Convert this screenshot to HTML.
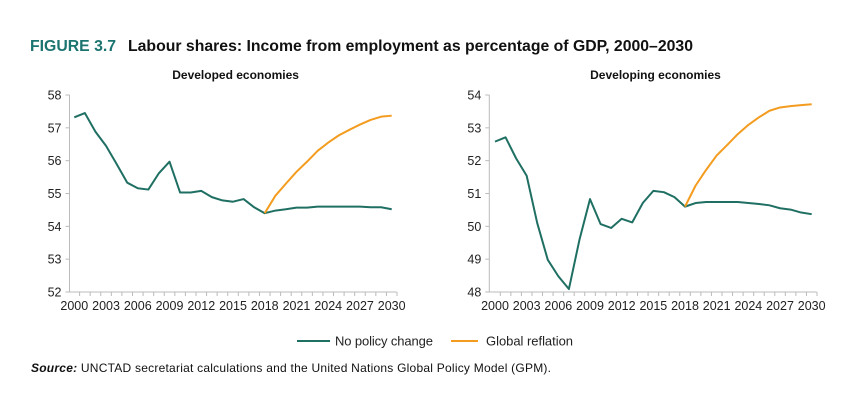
<!DOCTYPE html>
<html><head><meta charset="utf-8"><style>
body{margin:0;background:#fff;width:867px;height:404px;overflow:hidden;font-family:"Liberation Sans",Arial,sans-serif}
svg text{font-family:"Liberation Sans",Arial,sans-serif}
</style></head><body>
<svg id="s" width="867" height="404">
<text x="30" y="51" font-size="15.8" font-weight="bold" fill="#1c7470">FIGURE 3.7</text>
<text x="128" y="51" font-size="15.8" font-weight="bold" textLength="565" fill="#111">Labour shares: Income from employment as percentage of GDP, 2000–2030</text>
<g>
<line x1="297" y1="341" x2="330" y2="341" stroke="#1f6f63" stroke-width="2"/>
<text x="335" y="345.5" font-size="13" textLength="98" fill="#222">No policy change</text>
<line x1="451" y1="341" x2="478" y2="341" stroke="#f39c1f" stroke-width="2"/>
<text x="486" y="345.5" font-size="13" textLength="87" fill="#222">Global reflation</text>
</g>
<text x="31" y="372" font-size="12" textLength="520" fill="#111"><tspan font-weight="bold" font-style="italic">Source:</tspan>   UNCTAD secretariat calculations and the United Nations Global Policy Model (GPM).</text>
</svg>
<script>
const years=[];for(let y=2000;y<=2030;y++)years.push(y);
const xTickLabels=[2000,2003,2006,2009,2012,2015,2018,2021,2024,2027,2030];
const devTicks=[52,53,54,55,56,57,58];
const devNoPolicy=[57.32,57.45,56.88,56.45,55.9,55.33,55.16,55.12,55.62,55.97,55.03,55.03,55.08,54.89,54.79,54.75,54.83,54.58,54.40,54.48,54.52,54.57,54.57,54.6,54.6,54.6,54.6,54.6,54.58,54.58,54.52];
const devReflation=[54.40,54.93,55.3,55.66,55.97,56.3,56.55,56.77,56.94,57.1,57.24,57.34,57.37];
const dgTicks=[48,49,50,51,52,53,54];
const dgNoPolicy=[52.58,52.71,52.07,51.54,50.1,48.98,48.48,48.09,49.59,50.83,50.07,49.95,50.23,50.12,50.71,51.08,51.04,50.89,50.6,50.71,50.74,50.74,50.74,50.74,50.71,50.68,50.64,50.55,50.51,50.42,50.37];
const dgReflation=[50.6,51.24,51.72,52.16,52.48,52.81,53.09,53.32,53.52,53.62,53.66,53.69,53.72];
const svg=document.getElementById('s');const NS='http://www.w3.org/2000/svg';
function mk(t,a,p){const e=document.createElementNS(NS,t);for(const k in a)e.setAttribute(k,a[k]);(p||svg).appendChild(e);return e;}
function panel(name,title,axisX,x0,x1,ticks,np,rf){
 const g=mk('g',{});
 
 
 const yTop=95,yBot=292,lo=ticks[0],hi=ticks[ticks.length-1];
 const X=yr=>x0+(yr-2000)*(x1-x0)/30;
 const Y=v=>yBot-(v-lo)*(yBot-yTop)/(hi-lo);
 const t=mk('text',{x:(axisX+x1)/2+5,y:79,'font-size':12,'font-weight':'bold','text-anchor':'middle',fill:'#111'},g);t.textContent=title;
 
 
 const ax=mk('path',{d:`M${axisX},${yTop}V${yBot}H${X(2030)+5}`,stroke:'#bbb',fill:'none','stroke-width':1},g);
 
 
 ticks.forEach(v=>{mk('line',{x1:axisX-4,x2:axisX,y1:Y(v),y2:Y(v),stroke:'#bbb'},g);
  const l=mk('text',{x:axisX-8,y:Y(v)+4.5,'font-size':12.5,'text-anchor':'end',fill:'#222'},g);l.textContent=v;
  
  });
 years.forEach(yr=>{mk('line',{x1:X(yr)+5.3,x2:X(yr)+5.3,y1:yBot,y2:yBot+4,stroke:'#bbb'},g);});
 xTickLabels.forEach(yr=>{const l=mk('text',{x:X(yr),y:yBot+18,'font-size':12.5,'text-anchor':'middle',fill:'#222'},g);l.textContent=yr;
  
  });
 const p1=mk('polyline',{points:np.map((v,i)=>X(years[i])+','+Y(v)).join(' '),fill:'none',stroke:'#1f6f63','stroke-width':2,'stroke-linejoin':'round'},g);
 
 
 const p2=mk('polyline',{points:rf.map((v,i)=>X(2018+i)+','+Y(v)).join(' '),fill:'none',stroke:'#f39c1f','stroke-width':2,'stroke-linejoin':'round'},g);
 
 
}
panel('developed-chart','Developed economies',69.5,74.3,391.7,devTicks,devNoPolicy,devReflation);
panel('developing-chart','Developing economies',489.3,495,811.7,dgTicks,dgNoPolicy,dgReflation);
</script>
</body></html>
